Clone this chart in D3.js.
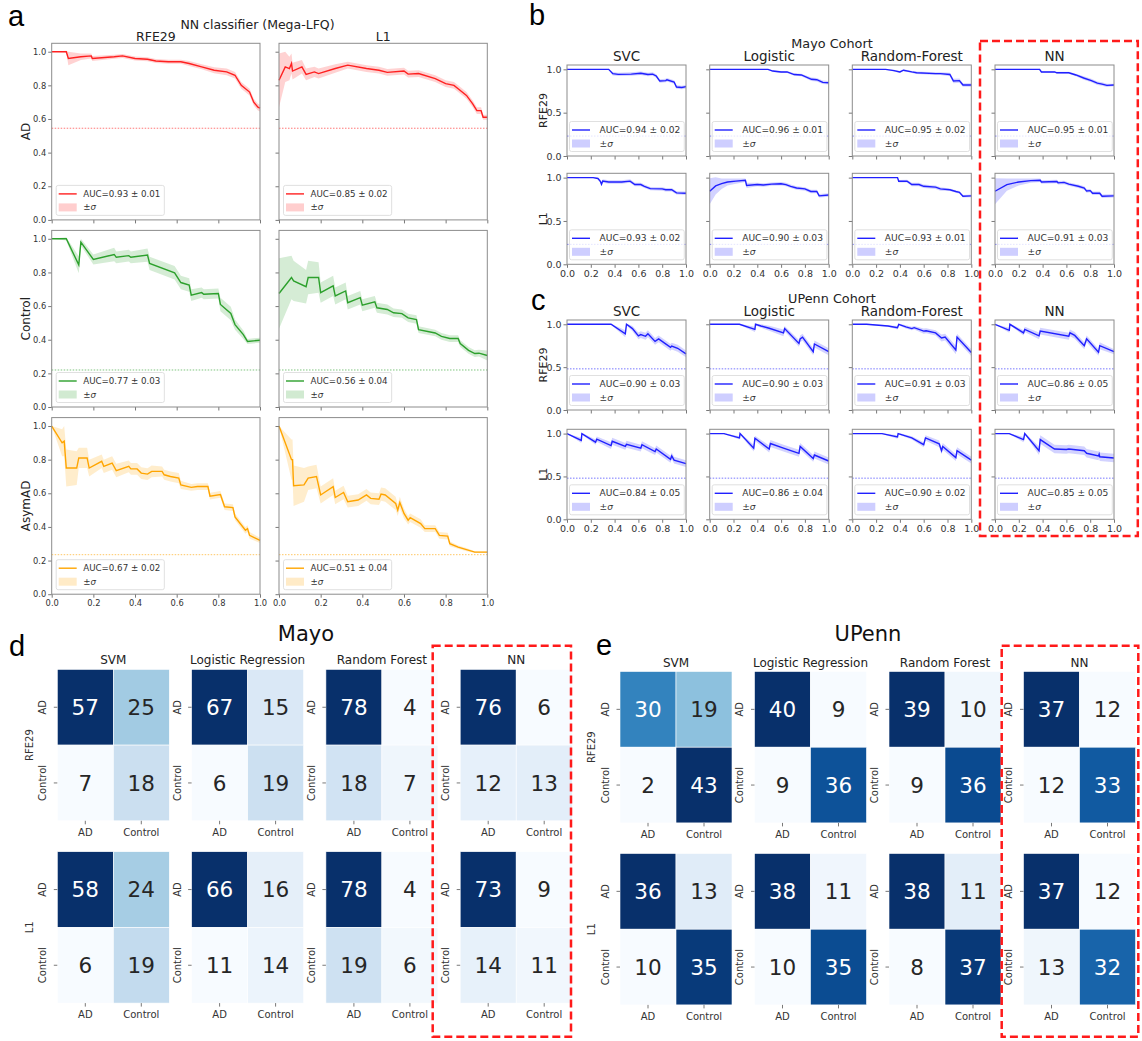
<!DOCTYPE html>
<html>
<head>
<meta charset="utf-8">
<script src="https://cdn.jsdelivr.net/npm/d3@7"></script>
<style>
body { margin: 0; background: #fff; }
text { font-family: "DejaVu Sans", sans-serif; }
</style>
</head>
<body>
<div id="fig"></div>
<script>

// ---------- data ----------
// precision-recall curves, each point is [recall, precision, sd]

// panel a, NN classifier (Mega-LFQ)
var a_AD_RFE29 = [[0,1,0],[0.07,1,0.005],[0.08,0.96,0.04],[0.14,0.97,0.02],[0.19,0.975,0.015],[0.195,0.96,0.015],[0.3,0.97,0.012],[0.34,0.975,0.012],[0.4,0.96,0.012],[0.46,0.955,0.012],[0.5,0.945,0.012],[0.56,0.94,0.012],[0.62,0.94,0.012],[0.66,0.93,0.015],[0.72,0.91,0.015],[0.78,0.89,0.018],[0.84,0.88,0.02],[0.88,0.86,0.02],[0.91,0.8,0.02],[0.95,0.76,0.02],[0.97,0.7,0.02],[0.99,0.67,0.02],[1,0.665,0.02]];
var a_AD_L1 = [[0,0.83,0.16],[0.03,0.91,0.09],[0.05,0.9,0.07],[0.06,0.93,0.06],[0.065,0.885,0.05],[0.11,0.91,0.04],[0.13,0.865,0.035],[0.17,0.88,0.03],[0.19,0.87,0.03],[0.27,0.9,0.025],[0.33,0.92,0.02],[0.42,0.9,0.02],[0.48,0.89,0.02],[0.52,0.877,0.02],[0.6,0.885,0.02],[0.62,0.867,0.02],[0.67,0.87,0.02],[0.75,0.84,0.02],[0.8,0.81,0.02],[0.84,0.8,0.02],[0.86,0.78,0.02],[0.9,0.74,0.02],[0.93,0.69,0.02],[0.95,0.65,0.02],[0.97,0.65,0.02],[0.98,0.61,0.015],[1,0.61,0.015]];
var a_Ctrl_RFE29 = [[0,1,0],[0.07,1,0.01],[0.13,0.845,0.05],[0.14,0.98,0.02],[0.2,0.877,0.03],[0.3,0.907,0.04],[0.31,0.89,0.035],[0.37,0.9,0.035],[0.38,0.89,0.035],[0.46,0.903,0.04],[0.47,0.854,0.04],[0.59,0.798,0.04],[0.62,0.74,0.04],[0.66,0.725,0.04],[0.67,0.665,0.035],[0.72,0.68,0.03],[0.73,0.67,0.03],[0.8,0.675,0.03],[0.81,0.61,0.04],[0.86,0.556,0.04],[0.88,0.49,0.03],[0.92,0.43,0.025],[0.94,0.39,0.015],[1,0.397,0.015]];
var a_Ctrl_L1 = [[0,0.675,0.21],[0.06,0.77,0.13],[0.07,0.75,0.12],[0.13,0.715,0.1],[0.14,0.77,0.1],[0.19,0.77,0.09],[0.2,0.68,0.06],[0.26,0.72,0.06],[0.27,0.66,0.05],[0.32,0.69,0.05],[0.33,0.62,0.04],[0.39,0.65,0.04],[0.4,0.605,0.035],[0.46,0.625,0.035],[0.47,0.59,0.03],[0.52,0.58,0.03],[0.55,0.56,0.025],[0.59,0.555,0.025],[0.62,0.53,0.025],[0.66,0.52,0.025],[0.67,0.46,0.02],[0.75,0.44,0.02],[0.78,0.42,0.02],[0.82,0.407,0.02],[0.86,0.407,0.02],[0.87,0.377,0.02],[0.91,0.337,0.02],[0.94,0.318,0.02],[0.96,0.32,0.02],[1,0.306,0.03]];
var a_Asym_RFE29 = [[0,1,0],[0.05,0.9,0.08],[0.06,0.91,0.09],[0.07,0.75,0.11],[0.12,0.75,0.1],[0.13,0.81,0.06],[0.17,0.81,0.06],[0.18,0.75,0.05],[0.24,0.79,0.04],[0.25,0.76,0.04],[0.29,0.78,0.04],[0.31,0.735,0.04],[0.37,0.76,0.035],[0.38,0.745,0.035],[0.41,0.745,0.035],[0.43,0.72,0.035],[0.46,0.714,0.035],[0.48,0.73,0.035],[0.53,0.73,0.03],[0.54,0.71,0.03],[0.57,0.7,0.03],[0.61,0.69,0.03],[0.62,0.65,0.025],[0.67,0.635,0.02],[0.7,0.64,0.02],[0.75,0.64,0.02],[0.76,0.583,0.02],[0.81,0.593,0.02],[0.83,0.52,0.02],[0.87,0.515,0.02],[0.88,0.46,0.02],[0.93,0.38,0.02],[0.94,0.39,0.02],[0.95,0.35,0.02],[1,0.32,0.015]];
var a_Asym_L1 = [[0,1,0],[0.06,0.8,0.12],[0.065,0.8,0.12],[0.07,0.645,0.12],[0.12,0.65,0.1],[0.14,0.69,0.07],[0.18,0.7,0.07],[0.2,0.59,0.05],[0.26,0.64,0.05],[0.27,0.575,0.04],[0.31,0.605,0.04],[0.33,0.55,0.035],[0.38,0.56,0.035],[0.42,0.59,0.035],[0.44,0.57,0.035],[0.48,0.565,0.035],[0.49,0.595,0.04],[0.51,0.59,0.04],[0.56,0.54,0.04],[0.57,0.5,0.035],[0.58,0.545,0.035],[0.6,0.48,0.03],[0.62,0.44,0.025],[0.63,0.455,0.025],[0.68,0.42,0.025],[0.7,0.39,0.02],[0.75,0.39,0.02],[0.77,0.35,0.02],[0.81,0.345,0.02],[0.82,0.3,0.015],[0.86,0.28,0.01],[0.9,0.265,0.01],[0.94,0.25,0.005],[1,0.25,0.005]];

var a_rows = ["AD", "Control", "AsymAD"];
var a_cols = ["RFE29", "L1"];
var a_colors = ["#ff2020", "#2ca02c", "#ffa500"];
var a_base = [0.545, 0.22, 0.235];
var a_auc = [["AUC=0.93 ± 0.01", "AUC=0.85 ± 0.02"], ["AUC=0.77 ± 0.03", "AUC=0.56 ± 0.04"], ["AUC=0.67 ± 0.02", "AUC=0.51 ± 0.04"]];

// panel b, Mayo cohort
var b_RFE29_SVC = [[0,1,0],[0.35,1,0.005],[0.385,0.95,0.02],[0.43,0.942,0.02],[0.54,0.945,0.02],[0.62,0.955,0.02],[0.68,0.94,0.02],[0.72,0.945,0.02],[0.75,0.923,0.02],[0.78,0.865,0.02],[0.83,0.87,0.02],[0.84,0.88,0.02],[0.9,0.854,0.02],[0.92,0.796,0.02],[0.965,0.79,0.02],[1,0.8,0.02]];
var b_RFE29_LR = [[0,1,0],[0.49,1,0.005],[0.53,0.98,0.01],[0.6,0.97,0.012],[0.65,0.97,0.012],[0.71,0.94,0.015],[0.77,0.935,0.015],[0.855,0.885,0.02],[0.9,0.88,0.02],[0.95,0.85,0.02],[1,0.845,0.02]];
var b_RFE29_RF = [[0,1,0],[0.28,1,0.005],[0.35,0.985,0.01],[0.4,0.97,0.012],[0.43,0.99,0.01],[0.5,0.97,0.012],[0.54,0.96,0.015],[0.7,0.95,0.015],[0.74,0.95,0.015],[0.82,0.94,0.02],[0.85,0.865,0.025],[0.9,0.87,0.025],[0.93,0.82,0.02],[1,0.82,0.02]];
var b_RFE29_NN = [[0,1,0],[0.375,1,0.005],[0.39,0.97,0.01],[0.5,0.97,0.01],[0.52,0.96,0.012],[0.62,0.96,0.012],[0.68,0.935,0.015],[0.745,0.9,0.02],[0.81,0.87,0.02],[0.86,0.84,0.02],[0.9,0.83,0.02],[0.94,0.815,0.02],[1,0.82,0.015]];
var b_L1_SVC = [[0,1,0],[0.22,1,0.005],[0.26,0.99,0.01],[0.28,0.958,0.02],[0.29,0.923,0.02],[0.3,0.96,0.02],[0.35,0.95,0.02],[0.46,0.95,0.02],[0.53,0.96,0.02],[0.57,0.92,0.02],[0.62,0.92,0.02],[0.65,0.9,0.02],[0.7,0.873,0.02],[0.8,0.87,0.02],[0.83,0.86,0.02],[0.88,0.86,0.02],[0.92,0.824,0.02],[1,0.82,0.02]];
var b_L1_LR = [[0,0.843,0.15],[0.05,0.905,0.1],[0.1,0.93,0.06],[0.15,0.95,0.04],[0.22,0.96,0.03],[0.3,0.97,0.02],[0.31,0.91,0.03],[0.4,0.92,0.02],[0.45,0.915,0.02],[0.52,0.925,0.02],[0.6,0.93,0.02],[0.64,0.92,0.02],[0.68,0.9,0.02],[0.73,0.88,0.02],[0.8,0.87,0.02],[0.85,0.84,0.02],[0.9,0.84,0.02],[0.92,0.79,0.02],[1,0.8,0.02]];
var b_L1_RF = [[0,1,0],[0.38,1,0.005],[0.39,0.958,0.015],[0.46,0.96,0.015],[0.5,0.92,0.02],[0.56,0.92,0.02],[0.6,0.9,0.02],[0.7,0.89,0.02],[0.74,0.87,0.02],[0.82,0.86,0.015],[0.87,0.84,0.015],[0.9,0.83,0.015],[0.93,0.785,0.015],[1,0.79,0.015]];
var b_L1_NN = [[0,0.843,0.15],[0.1,0.92,0.07],[0.2,0.95,0.04],[0.3,0.965,0.025],[0.38,0.97,0.02],[0.39,0.95,0.02],[0.52,0.955,0.02],[0.53,0.94,0.02],[0.58,0.945,0.02],[0.62,0.925,0.02],[0.7,0.9,0.02],[0.75,0.88,0.02],[0.77,0.845,0.02],[0.8,0.85,0.02],[0.82,0.82,0.02],[0.88,0.82,0.02],[0.9,0.785,0.02],[1,0.79,0.02]];

// panel c, UPenn cohort
var c_RFE29_SVC = [[0,1,0],[0.37,1,0.005],[0.49,0.89,0.04],[0.5,1,0.01],[0.55,0.95,0.03],[0.6,0.865,0.04],[0.62,0.88,0.04],[0.66,0.86,0.04],[0.68,0.89,0.04],[0.74,0.8,0.04],[0.77,0.83,0.04],[0.82,0.78,0.04],[0.87,0.73,0.04],[0.88,0.746,0.04],[0.93,0.72,0.04],[1,0.654,0.04]];
var c_RFE29_LR = [[0,1,0],[0.25,1,0.005],[0.38,0.94,0.03],[0.385,1,0.01],[0.43,0.98,0.02],[0.5,0.954,0.03],[0.62,0.9,0.04],[0.63,0.95,0.03],[0.75,0.777,0.04],[0.76,0.83,0.04],[0.78,0.85,0.04],[0.87,0.68,0.04],[0.88,0.77,0.04],[1,0.68,0.04]];
var c_RFE29_RF = [[0,1,0],[0.12,1,0.005],[0.3,0.98,0.01],[0.38,0.96,0.02],[0.39,1,0.01],[0.45,0.97,0.02],[0.5,0.95,0.02],[0.52,0.96,0.02],[0.6,0.92,0.03],[0.62,0.925,0.03],[0.7,0.9,0.03],[0.75,0.84,0.04],[0.78,0.85,0.04],[0.87,0.7,0.05],[0.88,0.85,0.04],[1,0.67,0.04]];
var c_RFE29_NN = [[0,1,0],[0.12,0.93,0.03],[0.125,1,0.01],[0.24,0.9,0.03],[0.25,0.94,0.03],[0.37,0.865,0.04],[0.38,0.92,0.04],[0.62,0.86,0.04],[0.63,0.9,0.04],[0.67,0.87,0.04],[0.75,0.75,0.04],[0.77,0.83,0.04],[0.87,0.673,0.04],[0.88,0.75,0.04],[1,0.68,0.03]];
var c_L1_SVC = [[0,1,0],[0.12,0.92,0.03],[0.125,1,0.01],[0.24,0.9,0.03],[0.25,0.935,0.03],[0.37,0.86,0.04],[0.38,0.91,0.04],[0.49,0.85,0.04],[0.5,0.875,0.04],[0.62,0.83,0.04],[0.63,0.87,0.04],[0.74,0.79,0.04],[0.75,0.82,0.04],[0.87,0.7,0.04],[0.88,0.74,0.04],[0.9,0.69,0.04],[1,0.65,0.04]];
var c_L1_LR = [[0,1,0],[0.12,1,0.005],[0.25,0.95,0.02],[0.255,1,0.01],[0.37,0.83,0.04],[0.38,0.945,0.03],[0.5,0.82,0.04],[0.51,0.884,0.04],[0.62,0.83,0.04],[0.75,0.77,0.04],[0.76,0.85,0.04],[0.87,0.71,0.04],[0.88,0.75,0.04],[1,0.68,0.04]];
var c_L1_RF = [[0,1,0],[0.25,1,0.005],[0.38,0.96,0.02],[0.385,1,0.01],[0.5,0.95,0.02],[0.6,0.87,0.03],[0.615,0.95,0.03],[0.73,0.88,0.04],[0.75,0.8,0.04],[0.76,0.85,0.04],[0.87,0.72,0.04],[0.88,0.8,0.04],[1,0.69,0.04]];
var c_L1_NN = [[0,1,0],[0.12,1,0.005],[0.24,0.93,0.03],[0.25,1,0.01],[0.37,0.8,0.05],[0.38,0.93,0.05],[0.5,0.82,0.05],[0.6,0.815,0.05],[0.62,0.82,0.05],[0.75,0.8,0.05],[0.77,0.77,0.05],[0.87,0.74,0.05],[0.875,0.76,0.05],[0.88,0.73,0.05],[1,0.715,0.05]];

var bc_models = ["SVC", "Logistic", "Random-Forest", "NN"];
var bc_rows = ["RFE29", "L1"];
var b_base = 0.23, c_base = 0.48;
var b_auc = [["AUC=0.94 ± 0.02", "AUC=0.96 ± 0.01", "AUC=0.95 ± 0.02", "AUC=0.95 ± 0.01"],
             ["AUC=0.93 ± 0.02", "AUC=0.90 ± 0.03", "AUC=0.93 ± 0.01", "AUC=0.91 ± 0.03"]];
var c_auc = [["AUC=0.90 ± 0.03", "AUC=0.90 ± 0.03", "AUC=0.91 ± 0.03", "AUC=0.86 ± 0.05"],
             ["AUC=0.84 ± 0.05", "AUC=0.86 ± 0.04", "AUC=0.90 ± 0.02", "AUC=0.85 ± 0.05"]];

// panels d, e: confusion matrices [AD-AD, AD-Control, Control-AD, Control-Control]
var cm_models = ["SVM", "Logistic Regression", "Random Forest", "NN"];
var cm_labels = ["AD", "Control"];
var mayo_RFE29 = [[57,25,7,18], [67,15,6,19], [78,4,18,7], [76,6,12,13]];
var mayo_L1    = [[58,24,6,19], [66,16,11,14], [78,4,19,6], [73,9,14,11]];
var upenn_RFE29 = [[30,19,2,43], [40,9,9,36], [39,10,9,36], [37,12,12,33]];
var upenn_L1    = [[36,13,10,35], [38,11,10,35], [38,11,8,37], [37,12,13,32]];

var xTicks = [0, 0.2, 0.4, 0.6, 0.8, 1.0];

// ---------- drawing ----------
var svg = d3.select("#fig").append("svg")
  .attr("width", 1142)
  .attr("height", 1041);

function styleAxis(sel, fs) {
  sel.select(".domain").remove();
  sel.selectAll(".tick line").attr("stroke", "#555").attr("stroke-width", 0.8);
  sel.selectAll(".tick text")
    .attr("fill", "#333")
    .style("font-size", fs + "px")
    .style("font-family", "DejaVu Sans");
}

function legend(g, bl, bb, color, label, fs, tOff) {
  var bt = bb - 30;
  var box = g.append("rect")
    .attr("x", bl).attr("y", bt)
    .attr("height", 30).attr("rx", 2)
    .attr("fill", "white").attr("fill-opacity", 0.8)
    .attr("stroke", "#d8d8d8").attr("stroke-width", 0.8);
  g.append("line")
    .attr("x1", bl + 2.5).attr("x2", bl + 20.5)
    .attr("y1", bt + 8.5).attr("y2", bt + 8.5)
    .attr("stroke", color).attr("stroke-width", 1.4);
  g.append("rect")
    .attr("x", bl + 2.5).attr("y", bt + 18)
    .attr("width", 18).attr("height", 8)
    .attr("fill", color).attr("fill-opacity", 0.22);
  var t = g.append("text")
    .attr("x", bl + tOff).attr("y", bt + 8.5).attr("dy", "0.35em")
    .attr("fill", "#333").style("font-size", fs + "px")
    .text(label);
  var s = g.append("text")
    .attr("x", bl + tOff).attr("y", bt + 22).attr("dy", "0.35em")
    .attr("fill", "#333").style("font-size", fs + "px");
  s.append("tspan").text("±");
  s.append("tspan").style("font-style", "italic").text("σ");
  box.attr("width", tOff + t.node().getComputedTextLength() + 4);
}

function prPlot(o) {
  var x = d3.scaleLinear().domain([0, 1]).range([o.left, o.left + o.w]);
  var y = d3.scaleLinear().domain([0, o.ymax]).range([o.top + o.h, o.top]);
  var g = svg.append("g");

  g.append("line")
    .attr("x1", x(0)).attr("x2", x(1))
    .attr("y1", y(o.base)).attr("y2", y(o.base))
    .attr("stroke", o.color).attr("stroke-width", 1)
    .attr("stroke-dasharray", "1.5,1.5").attr("opacity", 0.6);

  var area = d3.area()
    .x(function(d) { return x(d[0]); })
    .y0(function(d) { return y(Math.max(0, d[1] - d[2])); })
    .y1(function(d) { return y(Math.min(o.ymax, d[1] + d[2])); });
  g.append("path").datum(o.pts)
    .attr("d", area)
    .attr("fill", o.color).attr("fill-opacity", 0.2);

  var line = d3.line()
    .x(function(d) { return x(d[0]); })
    .y(function(d) { return y(d[1]); });
  g.append("path").datum(o.pts)
    .attr("d", line)
    .attr("fill", "none").attr("stroke", o.color).attr("stroke-width", 1.4);

  legend(g, o.left + o.legX, o.top + o.h - 4.5, o.color, o.auc, o.legFs, o.legT);

  var xa = d3.axisBottom(x).tickValues(xTicks).tickSize(3.5).tickPadding(2)
    .tickFormat(o.xLab ? d3.format(".1f") : "");
  g.append("g").attr("transform", "translate(0," + y(0) + ")").call(xa).call(styleAxis, o.tickFs);

  var ya = d3.axisLeft(y).tickValues(o.yticks).tickSize(3.5).tickPadding(2)
    .tickFormat(o.yLab ? d3.format(".1f") : "");
  g.append("g").attr("transform", "translate(" + x(0) + ",0)").call(ya).call(styleAxis, o.tickFs);

  g.append("rect")
    .attr("x", o.left).attr("y", o.top)
    .attr("width", o.w).attr("height", o.h)
    .attr("fill", "none").attr("stroke", "#8c8c8c").attr("stroke-width", 1);
}

function label(x, y, txt, fs, opts) {
  opts = opts || {};
  var t = svg.append("text")
    .attr("x", x).attr("y", y)
    .attr("fill", opts.fill || "#222")
    .style("font-size", fs + "px")
    .style("text-anchor", opts.anchor || "middle")
    .text(txt);
  if (opts.rotate) {
    t.attr("x", 0).attr("y", 0).attr("dy", "0.35em")
      .attr("transform", "translate(" + x + "," + y + ")rotate(-90)");
  }
  if (opts.family) t.style("font-family", opts.family);
  return t;
}

function panelLetter(x, y, txt) {
  label(x, y, txt, 29, {anchor: "start", fill: "#000", family: "Liberation Sans, Arial, sans-serif"});
}

// panel a
var aLefts = [51.7, 279], aTops = [43.3, 230.4, 417.6], aW = 208.3, aH = 176.6;
var aPts = [[a_AD_RFE29, a_AD_L1], [a_Ctrl_RFE29, a_Ctrl_L1], [a_Asym_RFE29, a_Asym_L1]];
panelLetter(8, 26, "a");
label(257.5, 28.5, "NN classifier (Mega-LFQ)", 12.5);
a_rows.forEach(function(r, i) {
  a_cols.forEach(function(c, j) {
    prPlot({left: aLefts[j], top: aTops[i], w: aW, h: aH, ymax: 1.05,
      yticks: [0, 0.2, 0.4, 0.6, 0.8, 1.0], pts: aPts[i][j], color: a_colors[i],
      base: a_base[i], auc: a_auc[i][j], yLab: j == 0, xLab: i == 2, tickFs: 8.3,
      legFs: 8.7, legX: 4.5, legT: 27});
  });
  label(26, aTops[i] + aH / 2, r, 12, {rotate: true});
});
a_cols.forEach(function(c, j) {
  label(aLefts[j] + aW / 2, 40.5, c, 12.5);
});

// panels b and c
var bcLefts = [567, 709.7, 852.3, 995], bcW = 119;
function cohort(tops, h, pts, base, auc, title, titleY) {
  label(832, titleY, title, 12.8);
  bc_rows.forEach(function(r, i) {
    bc_models.forEach(function(m, j) {
      prPlot({left: bcLefts[j], top: tops[i], w: bcW, h: h, ymax: 1.05,
        yticks: [0, 0.5, 1.0], pts: pts[i][j], color: "#2020ff",
        base: base, auc: auc[i][j], yLab: j == 0, xLab: i == 1, tickFs: 9.5,
        legFs: 9.1, legX: 2.5, legT: 30});
    });
    label(543, tops[i] + h / 2, r, 11, {rotate: true});
  });
  bc_models.forEach(function(m, j) {
    label(bcLefts[j] + bcW / 2, tops[0] - 4, m, 13.5);
  });
}
panelLetter(529, 25, "b");
cohort([65, 173.3], 91, [[b_RFE29_SVC, b_RFE29_LR, b_RFE29_RF, b_RFE29_NN], [b_L1_SVC, b_L1_LR, b_L1_RF, b_L1_NN]],
  b_base, b_auc, "Mayo Cohort", 47.5);
panelLetter(531, 310, "c");
cohort([320, 429.3], 90, [[c_RFE29_SVC, c_RFE29_LR, c_RFE29_RF, c_RFE29_NN], [c_L1_SVC, c_L1_LR, c_L1_RF, c_L1_NN]],
  c_base, c_auc, "UPenn Cohort", 303);

// panels d and e
function textColor(c) {
  var rgb = d3.rgb(c);
  var f = function(v) { v /= 255; return v <= 0.03928 ? v / 12.92 : Math.pow((v + 0.055) / 1.055, 2.4); };
  var lum = 0.2126 * f(rgb.r) + 0.7152 * f(rgb.g) + 0.0722 * f(rgb.b);
  return lum > 0.408 ? "#262626" : "white";
}

function confMat(left, top, vals) {
  var w = 112, h = 151.4;
  var x = d3.scaleBand().domain(cm_labels).range([left, left + w]);
  var y = d3.scaleBand().domain(cm_labels).range([top, top + h]);
  var color = d3.scaleSequential(d3.interpolateBlues).domain(d3.extent(vals));
  var cells = vals.map(function(v, i) {
    return {r: cm_labels[Math.floor(i / 2)], c: cm_labels[i % 2], v: v};
  });
  var g = svg.append("g");
  g.selectAll("rect").data(cells).enter().append("rect")
    .attr("x", function(d) { return x(d.c); })
    .attr("y", function(d) { return y(d.r); })
    .attr("width", x.bandwidth())
    .attr("height", y.bandwidth())
    .attr("fill", function(d) { return color(d.v); })
    .attr("stroke", "white").attr("stroke-width", 0.6);
  g.selectAll("text.val").data(cells).enter().append("text")
    .attr("class", "val")
    .attr("x", function(d) { return x(d.c) + x.bandwidth() / 2; })
    .attr("y", function(d) { return y(d.r) + y.bandwidth() / 2; })
    .attr("dy", "0.36em")
    .style("text-anchor", "middle")
    .style("font-size", "21.5px")
    .attr("fill", function(d) { return textColor(color(d.v)); })
    .text(function(d) { return d.v; });

  var xa = d3.axisBottom(x).tickSize(3.5).tickPadding(4.5);
  g.append("g").attr("transform", "translate(0," + (top + h) + ")").call(xa).call(styleAxis, 10);
  var ya = d3.axisLeft(y).tickSize(3.5);
  var yg = g.append("g").attr("transform", "translate(" + left + ",0)").call(ya).call(styleAxis, 10);
  yg.selectAll(".tick text")
    .attr("x", 0).attr("dy", "0.35em")
    .attr("transform", "translate(-14.6,0)rotate(-90)")
    .style("text-anchor", "middle");
}

function cmPanel(lefts, tops, data, title, titleX) {
  label(titleX, 641, title, 21, {fill: "#111"});
  data.forEach(function(rowVals, i) {
    rowVals.forEach(function(vals, j) {
      confMat(lefts[j], tops[i], vals);
    });
    label(lefts[0] - 28.3, tops[i] + 75.7, bc_rows[i], 10, {rotate: true, fill: "#333"});
  });
  cm_models.forEach(function(m, j) {
    label(lefts[j] + 56, tops[0] - 5, m, 12, {fill: "#222"});
  });
}

panelLetter(9, 656, "d");
cmPanel([57.3, 191.6, 325.9, 460.2], [669.4, 851.7], [mayo_RFE29, mayo_L1], "Mayo", 306);
panelLetter(596, 655, "e");
cmPanel([620, 754.5, 889, 1023.5], [671.5, 853.5], [upenn_RFE29, upenn_L1], "UPenn", 868);

// red dashed boxes around NN
var boxes = [[980, 41, 1137.8, 536], [432.7, 645.7, 571, 1036.7], [1001.7, 645.7, 1138.3, 1036.7]];
boxes.forEach(function(b) {
  svg.append("rect")
    .attr("x", b[0]).attr("y", b[1])
    .attr("width", b[2] - b[0]).attr("height", b[3] - b[1])
    .attr("fill", "none")
    .attr("stroke", "#ff1a1a").attr("stroke-width", 2.5)
    .attr("stroke-dasharray", "8,4");
});

</script>
</body>
</html>
